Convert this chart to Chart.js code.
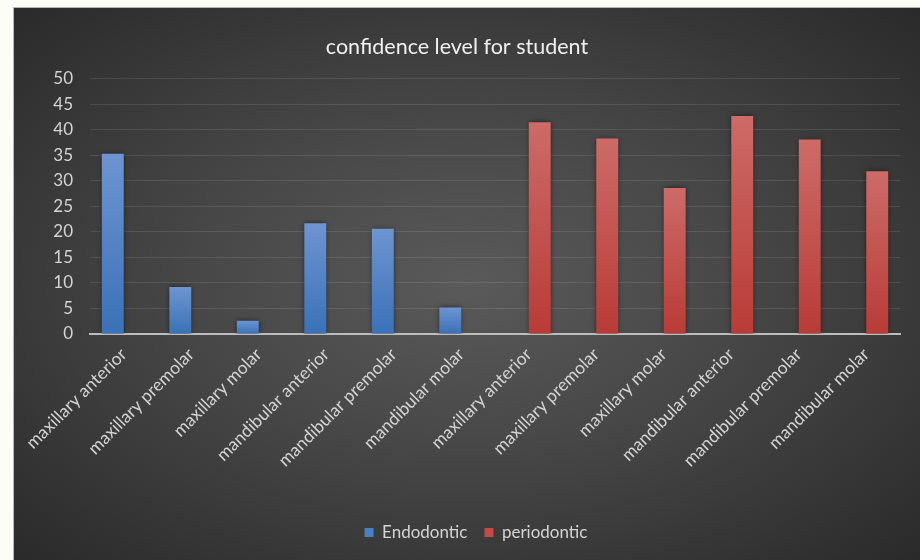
<!DOCTYPE html>
<html>
<head>
<meta charset="utf-8">
<script src="https://cdn.jsdelivr.net/npm/chart.js@4.4.1/dist/chart.umd.min.js"></script>
<style>
  html, body { margin: 0; padding: 0; background: #fdfdf8; }
  body { width: 920px; height: 560px; position: relative; overflow: hidden; }
  .frame {
    position: absolute; left: 13px; top: 7px; width: 906px; height: 552px;
    border-left: 1px solid #b8b8b8; border-top: 1px solid #b8b8b8;
    background: radial-gradient(ellipse farthest-corner at 50% 50%, #5a5a5a 0%, #464646 45%, #2a2a2a 100%);
  }
  canvas { display: block; }
</style>
</head>
<body>
<div class="frame"><canvas id="myChart" width="906" height="552"></canvas></div>
<script>
const categories = [
  "maxillary anterior", "maxillary premolar", "maxillary molar",
  "mandibular anterior", "mandibular premolar", "mandibular molar",
  "maxillary anterior", "maxillary premolar", "maxillary molar",
  "mandibular anterior", "mandibular premolar", "mandibular molar",
];
const endodontic = [35.3, 9.2, 2.6, 21.7, 20.6, 5.2, null, null, null, null, null, null];
const periodontic = [null, null, null, null, null, null, 41.5, 38.3, 28.6, 42.7, 38.1, 31.9];
const yMax = 50;
const yStep = 5;

const fontFamily = "Lato, 'Open Sans', sans-serif";

// gradient per bar, lighter at the top
const barGradient = (top, bottom) => (context) => {
  const chart = context.chart;
  const { ctx, chartArea, scales } = chart;
  if (!chartArea || context.parsed == null || context.parsed.y == null) return bottom;
  const yTop = scales.y.getPixelForValue(context.parsed.y);
  const yBottom = scales.y.getPixelForValue(0);
  const g = ctx.createLinearGradient(0, yTop, 0, yBottom);
  g.addColorStop(0, top);
  g.addColorStop(1, bottom);
  return g;
};

const barShadow = {
  id: "barShadow",
  beforeDatasetsDraw(chart) {
    const ctx = chart.ctx;
    ctx.save();
    ctx.shadowColor = "rgba(0,0,0,0.55)";
    ctx.shadowBlur = 5;
    ctx.shadowOffsetX = 0;
    ctx.shadowOffsetY = 0;
  },
  afterDatasetsDraw(chart) {
    chart.ctx.restore();
  },
};

// legend sits a little right of the canvas centre in the original
const legendShift = {
  id: "legendShift",
  afterLayout(chart) {
    chart.legend.left += 19;
    chart.legend.right += 19;
  },
};

new Chart(document.getElementById("myChart"), {
  type: "bar",
  data: {
    labels: categories,
    datasets: [
      {
        label: "Endodontic",
        data: endodontic,
        backgroundColor: barGradient("#6d95d0", "#3a71b8"),
        borderWidth: 0,
      },
      {
        label: "periodontic",
        data: periodontic,
        backgroundColor: barGradient("#cd6b67", "#b93b37"),
        borderWidth: 0,
      },
    ],
  },
  options: {
    responsive: false,
    animation: false,
    categoryPercentage: 0.65,
    barPercentage: 1,
    layout: { padding: { left: 0, right: 20, top: 0, bottom: 9 } },
    scales: {
      x: {
        grid: { display: false, drawTicks: false },
        border: { display: true, color: "#bdbdbd", width: 2 },
        ticks: {
          color: "#d4d4d4",
          font: { family: fontFamily, size: 17.5 },
          minRotation: 45,
          maxRotation: 45,
          padding: 10,
          autoSkip: false,
        },
        afterFit(scale) { scale.height = 173; },
      },
      y: {
        min: 0,
        max: yMax,
        grid: { color: "rgba(255,255,255,0.1)", lineWidth: 1, drawTicks: false },
        border: { display: false },
        ticks: {
          stepSize: yStep,
          color: "#d4d4d4",
          font: { family: fontFamily, size: 17 },
          padding: 17,
        },
        afterFit(scale) { scale.width = 76; },
      },
    },
    plugins: {
      title: {
        display: true,
        text: "confidence level for student",
        color: "#f0f0f0",
        font: { family: fontFamily, size: 21.5, weight: "normal" },
        padding: { top: 26, bottom: 19 },
      },
      legend: {
        position: "bottom",
        labels: {
          color: "#d4d4d4",
          font: { family: fontFamily, size: 17 },
          boxWidth: 9,
          boxHeight: 9,
          padding: 17,
          generateLabels(chart) {
            const fills = ["#4a7fc4", "#c74a46"];
            return chart.data.datasets.map((ds, i) => ({
              text: ds.label,
              fillStyle: fills[i],
              strokeStyle: fills[i],
              lineWidth: 0,
              fontColor: "#d4d4d4",
              datasetIndex: i,
              hidden: false,
            }));
          },
        },
      },
      tooltip: { enabled: false },
    },
  },
  plugins: [barShadow, legendShift],
});
</script>
</body>
</html>
